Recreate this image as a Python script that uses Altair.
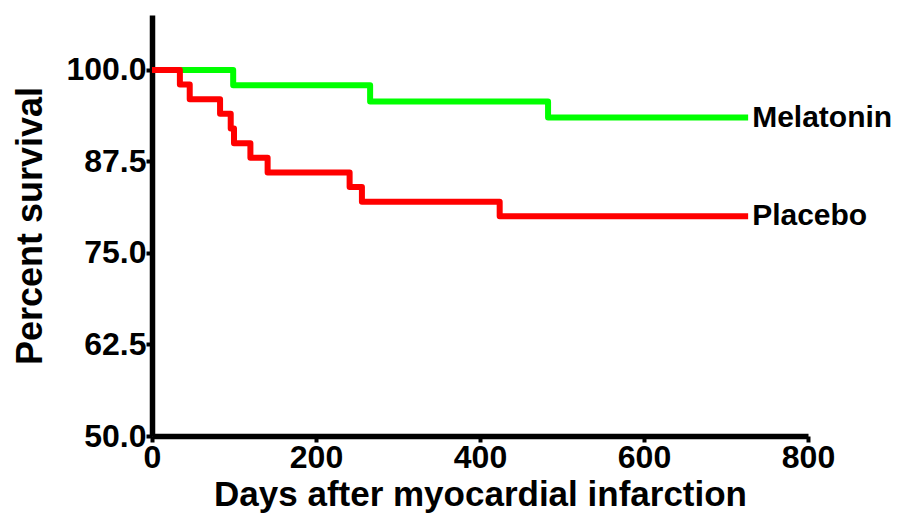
import altair as alt
import pandas as pd

mel_days = [0, 99, 266, 483, 727]
mel_surv = [100, 97.9, 95.7, 93.5, 93.5]
pla_days = [0, 34, 46, 83, 96, 100, 120, 141, 241, 256, 424, 727]
pla_surv = [100, 98, 96, 94, 92, 90, 88, 86, 84, 82, 80, 80]
groups = ["Melatonin", "Placebo"]
colors = ["#00ff00", "#ff0000"]
x_ticks = [0, 200, 400, 600, 800]
y_ticks = [50, 62.5, 75, 87.5, 100]

rows = []
for i, (d, s) in enumerate(zip(mel_days, mel_surv)):
    rows.append({"group": "Melatonin", "day": d, "surv": s, "order": i})
for i, (d, s) in enumerate(zip(pla_days, pla_surv)):
    rows.append({"group": "Placebo", "day": d, "surv": s, "order": i})
df = pd.DataFrame(rows)

labels = pd.DataFrame({"group": groups,
                       "day": [mel_days[-1], pla_days[-1]],
                       "surv": [mel_surv[-1], pla_surv[-1]]})

FONT = "Liberation Sans"
xscale = alt.Scale(domain=[0, 800], nice=False, zero=False)
yscale = alt.Scale(domain=[50, 107.5], nice=False, zero=False)
cscale = alt.Scale(domain=groups, range=colors)

lines = alt.Chart(df).mark_line(interpolate="step-after", strokeWidth=6,
                                strokeJoin="round", clip=False).encode(
    x=alt.X("day:Q", scale=xscale,
            axis=alt.Axis(title="Days after myocardial infarction", values=x_ticks,
                          format="d", grid=False, domainWidth=5.5, domainColor="black",
                          tickWidth=4, tickSize=6, tickColor="black",
                          labelFont=FONT, labelFontSize=32, labelFontWeight="bold",
                          labelColor="black", labelPadding=0, labelFlush=False,
                          labelOverlap=False,
                          titleFont=FONT, titleFontSize=35, titleFontWeight="bold",
                          titleColor="black", titlePadding=4)),
    y=alt.Y("surv:Q", scale=yscale,
            axis=alt.Axis(title="Percent survival", values=y_ticks,
                          format=".1f", grid=False, domainWidth=5.5, domainColor="black",
                          tickWidth=4, tickSize=6, tickColor="black",
                          labelFont=FONT, labelFontSize=32, labelFontWeight="bold",
                          labelColor="black", labelPadding=0, labelFlush=False,
                          labelOverlap=False,
                          titleFont=FONT, titleFontSize=36, titleFontWeight="bold",
                          titleColor="black", titlePadding=16)),
    color=alt.Color("group:N", scale=cscale, legend=None),
    order="order:Q",
    detail="group:N",
)

text = alt.Chart(labels).mark_text(align="left", baseline="middle", dx=4,
                                   font=FONT, fontSize=30, fontWeight="bold",
                                   color="black").encode(
    x=alt.X("day:Q", scale=xscale),
    y=alt.Y("surv:Q", scale=yscale),
    text="group:N",
)

chart = (lines + text).properties(
    width=656, height=421,
    autosize=alt.AutoSizeParams(type="none"),
    padding={"left": 144, "top": 7, "right": 86, "bottom": 79},
    background="white",
).configure_view(stroke=None, strokeWidth=0)

chart.save("out.html", embed_options={"renderer": "svg", "actions": False})
